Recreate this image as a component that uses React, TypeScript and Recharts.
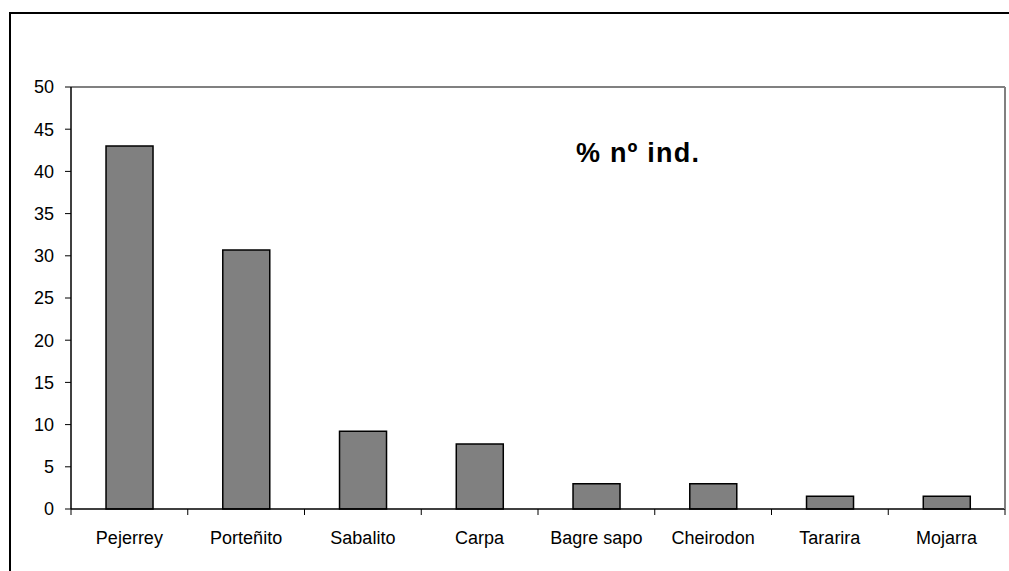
import React from 'react';
import { BarChart, Bar, XAxis, YAxis } from 'recharts';

const categories = ['Pejerrey', 'Porteñito', 'Sabalito', 'Carpa', 'Bagre sapo', 'Cheirodon', 'Tararira', 'Mojarra'];
const values = [43, 30.7, 9.2, 7.7, 3.0, 3.0, 1.5, 1.5];
const yTicks = [0, 5, 10, 15, 20, 25, 30, 35, 40, 45, 50];
const title = '% nº ind.';

const data = categories.map((name, i) => ({ name, value: values[i] }));

const FONT = '"Liberation Sans", Arial, sans-serif';
const TICK_MARGIN = 22;

function CategoryTick(props: any) {
  const { x, y, payload, index } = props;
  const half = payload && typeof payload.offset === 'number' && payload.offset > 0 ? payload.offset : 58.4;
  const axisY = y - TICK_MARGIN;
  const isLast = index === categories.length - 1;
  return (
    <g>
      <line x1={x - half} x2={x - half} y1={axisY} y2={axisY + 6} stroke="#000" strokeWidth={1} />
      {isLast && <line x1={x + half} x2={x + half} y1={axisY} y2={axisY + 6} stroke="#000" strokeWidth={1} />}
      <text x={x} y={y} dy="0.71em" textAnchor="middle" fill="#000" fontSize={18} fontFamily={FONT}>
        {payload.value}
      </text>
    </g>
  );
}

export default function App() {
  return (
    <div style={{ position: 'absolute', left: 0, top: 0, width: 1009, height: 571, overflow: 'hidden', background: '#fff', fontFamily: FONT }}>
      <div style={{ position: 'absolute', left: 9, top: 12, width: 1100, height: 700, border: '2px solid #000' }} />
      <BarChart
        width={1009}
        height={571}
        data={data}
        margin={{ top: 86, right: 0, bottom: 0, left: 0 }}
        barCategoryGap="30%"
        style={{ position: 'absolute', left: 0, top: 0 }}
      >
        <XAxis
          xAxisId="top"
          dataKey="name"
          orientation="top"
          height={1}
          tick={false}
          tickLine={false}
          axisLine={{ stroke: '#808080', strokeWidth: 2 }}
        />
        <XAxis
          dataKey="name"
          height={62}
          tickLine={false}
          tickSize={0}
          tickMargin={TICK_MARGIN}
          interval={0}
          axisLine={{ stroke: '#000', strokeWidth: 1.5 }}
          tick={<CategoryTick />}
        />
        <YAxis
          width={71}
          domain={[0, 50]}
          ticks={yTicks}
          interval={0}
          tickSize={6}
          tickMargin={11}
          axisLine={{ stroke: '#000', strokeWidth: 1.5 }}
          tickLine={{ stroke: '#000', strokeWidth: 1 }}
          tick={{ fill: '#000', fontSize: 18, fontFamily: FONT }}
        />
        <YAxis
          yAxisId="right"
          orientation="right"
          width={4}
          domain={[0, 50]}
          tick={false}
          tickLine={false}
          axisLine={{ stroke: '#808080', strokeWidth: 2 }}
        />
        <Bar dataKey="value" fill="#808080" stroke="#000" strokeWidth={1.5} isAnimationActive={false} />
      </BarChart>
      <div style={{ position: 'absolute', left: 576, top: 140, fontSize: 27, lineHeight: 1, fontWeight: 'bold', letterSpacing: 1.2, whiteSpace: 'nowrap', color: '#000' }}>
        {title}
      </div>
    </div>
  );
}
